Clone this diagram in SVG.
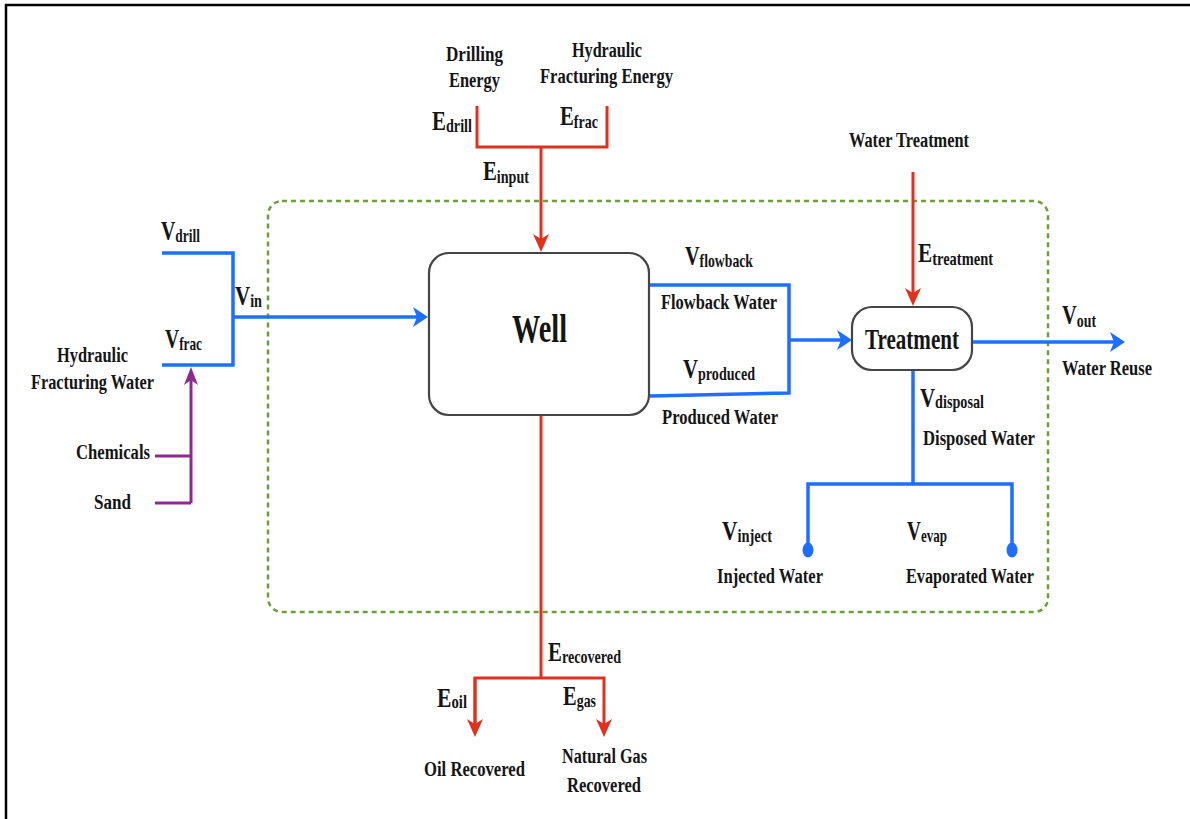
<svg xmlns="http://www.w3.org/2000/svg" width="1190" height="819" viewBox="0 0 1190 819">
<style>
text{font-family:"Liberation Serif","Times New Roman",serif;font-weight:bold;fill:#151515}
.l{font-size:20px}
.v{font-size:28px}
.s{font-size:19px}
.blue{fill:none;stroke:#1f6fff;stroke-width:3.5}
.red{fill:none;stroke:#e0311f;stroke-width:3}
.pur{fill:none;stroke:#8e2a8f;stroke-width:3}
.box{fill:#fff;stroke:#454545;stroke-width:2.2}
</style>
<defs>
<marker id="ab" markerUnits="userSpaceOnUse" viewBox="0 0 15 20" refX="10" refY="10" markerWidth="15" markerHeight="20" orient="auto"><path d="M0,0 L15,10 L0,20 L4,10 z" fill="#1f6fff"/></marker>
<marker id="ar" markerUnits="userSpaceOnUse" viewBox="0 0 18 16" refX="13" refY="8" markerWidth="18" markerHeight="16" orient="auto"><path d="M0,0 L18,8 L0,16 L5,8 z" fill="#e0311f"/></marker>
<marker id="ap" markerUnits="userSpaceOnUse" viewBox="0 0 18 14" refX="13" refY="7" markerWidth="18" markerHeight="14" orient="auto"><path d="M0,0 L18,7 L0,14 L5,7 z" fill="#8e2a8f"/></marker>
</defs>
<rect width="1190" height="819" fill="#fff"/>
<path d="M6,819 V5 H1190" fill="none" stroke="#000" stroke-width="2.5"/>
<rect id="boundary" x="268" y="201" width="780" height="411" rx="14" fill="none" stroke="#6a9f3a" stroke-width="2.5" stroke-dasharray="5 4"/>

<g id="connectors">
<path class="red" d="M477,106 V147 H607 V106"/>
<path class="red" d="M541,147 V247" marker-end="url(#ar)"/>
<path class="red" d="M913,172 V301" marker-end="url(#ar)"/>
<path class="red" d="M541,415 V678"/>
<path class="red" d="M475,732 V678 H604 V732" marker-end="url(#ar)"/>
<path class="red" d="M475,678 V732" marker-end="url(#ar)"/>
<path class="blue" d="M162,253 H233 V365 H162"/>
<path class="blue" d="M233,317 H423" marker-end="url(#ab)"/>
<path class="blue" d="M650,285 H789 V393 L650,396"/>
<path class="blue" d="M789,340 H847" marker-end="url(#ab)"/>
<path class="blue" d="M972,342 H1120" marker-end="url(#ab)"/>
<path class="blue" d="M913,370 V484"/>
<path class="blue" d="M808,550 V484 H1012 V550"/>
<ellipse cx="808" cy="550" rx="5.5" ry="7.5" fill="#1f6fff"/>
<ellipse cx="1012" cy="550" rx="5.5" ry="7.5" fill="#1f6fff"/>
<path class="pur" d="M191,503 V372" marker-end="url(#ap)"/>
<path class="pur" d="M155,456 H191 M155,503 H191"/>
</g>

<g id="well">
<rect class="box" x="429" y="253" width="220" height="162" rx="20"/>
<text x="512" y="342" style="font-size:40px" textLength="55" lengthAdjust="spacingAndGlyphs">Well</text>
</g>
<g id="treatment">
<rect class="box" x="852" y="307" width="120" height="63" rx="20"/>
<text x="865" y="349" style="font-size:30px" textLength="94" lengthAdjust="spacingAndGlyphs">Treatment</text>
</g>

<g id="drilling-energy">
<text class="l" x="446" y="61" textLength="57" lengthAdjust="spacingAndGlyphs">Drilling</text>
<text class="l" x="449" y="87" textLength="51" lengthAdjust="spacingAndGlyphs">Energy</text>
<text x="432" y="130" textLength="40" lengthAdjust="spacingAndGlyphs"><tspan class="v">E</tspan><tspan class="s" dy="2">drill</tspan></text>
</g>
<g id="frac-energy">
<text class="l" x="572" y="57" textLength="70" lengthAdjust="spacingAndGlyphs">Hydraulic</text>
<text class="l" x="540" y="83" textLength="133" lengthAdjust="spacingAndGlyphs">Fracturing Energy</text>
<text x="560" y="125" textLength="38" lengthAdjust="spacingAndGlyphs"><tspan class="v">E</tspan><tspan class="s" dy="3">frac</tspan></text>
</g>
<g id="e-input">
<text x="483" y="180" textLength="46" lengthAdjust="spacingAndGlyphs"><tspan class="v">E</tspan><tspan class="s" dy="3">input</tspan></text>
</g>
<g id="water-treatment">
<text class="l" x="849" y="147" textLength="120" lengthAdjust="spacingAndGlyphs">Water Treatment</text>
<text x="918" y="262" textLength="75" lengthAdjust="spacingAndGlyphs"><tspan class="v">E</tspan><tspan class="s" dy="3">treatment</tspan></text>
</g>
<g id="v-drill">
<text x="161" y="240" textLength="39" lengthAdjust="spacingAndGlyphs"><tspan class="v">V</tspan><tspan class="s" dy="2">drill</tspan></text>
</g>
<g id="v-in">
<text x="235" y="305" textLength="27" lengthAdjust="spacingAndGlyphs"><tspan class="v">V</tspan><tspan class="s" dy="2">in</tspan></text>
</g>
<g id="frac-water">
<text x="165" y="348" textLength="37" lengthAdjust="spacingAndGlyphs"><tspan class="v">V</tspan><tspan class="s" dy="2">frac</tspan></text>
<text class="l" x="57" y="362" textLength="71" lengthAdjust="spacingAndGlyphs">Hydraulic</text>
<text class="l" x="31" y="389" textLength="123" lengthAdjust="spacingAndGlyphs">Fracturing Water</text>
</g>
<g id="chemicals">
<text class="l" x="76" y="459" textLength="74" lengthAdjust="spacingAndGlyphs">Chemicals</text>
</g>
<g id="sand">
<text class="l" x="94" y="509" textLength="37" lengthAdjust="spacingAndGlyphs">Sand</text>
</g>
<g id="flowback">
<text x="685" y="265" textLength="68" lengthAdjust="spacingAndGlyphs"><tspan class="v">V</tspan><tspan class="s" dy="2">flowback</tspan></text>
<text class="l" x="661" y="309" textLength="116" lengthAdjust="spacingAndGlyphs">Flowback Water</text>
</g>
<g id="produced">
<text x="683" y="378" textLength="72" lengthAdjust="spacingAndGlyphs"><tspan class="v">V</tspan><tspan class="s" dy="2">produced</tspan></text>
<text class="l" x="662" y="424" textLength="116" lengthAdjust="spacingAndGlyphs">Produced Water</text>
</g>
<g id="reuse">
<text x="1062" y="324" textLength="34" lengthAdjust="spacingAndGlyphs"><tspan class="v">V</tspan><tspan class="s" dy="3">out</tspan></text>
<text class="l" x="1062" y="375" textLength="90" lengthAdjust="spacingAndGlyphs">Water Reuse</text>
</g>
<g id="disposal">
<text x="920" y="407" textLength="64" lengthAdjust="spacingAndGlyphs"><tspan class="v">V</tspan><tspan class="s" dy="1">disposal</tspan></text>
<text class="l" x="923" y="445" textLength="112" lengthAdjust="spacingAndGlyphs">Disposed Water</text>
</g>
<g id="injected">
<text x="722" y="540" textLength="50" lengthAdjust="spacingAndGlyphs"><tspan class="v">V</tspan><tspan class="s" dy="2">inject</tspan></text>
<text class="l" x="717" y="583" textLength="106" lengthAdjust="spacingAndGlyphs">Injected Water</text>
</g>
<g id="evaporated">
<text x="907" y="540" textLength="40" lengthAdjust="spacingAndGlyphs"><tspan class="v">V</tspan><tspan class="s" dy="2">evap</tspan></text>
<text class="l" x="906" y="583" textLength="128" lengthAdjust="spacingAndGlyphs">Evaporated Water</text>
</g>
<g id="recovered">
<text x="548" y="661" textLength="73" lengthAdjust="spacingAndGlyphs"><tspan class="v">E</tspan><tspan class="s" dy="2">recovered</tspan></text>
</g>
<g id="oil">
<text x="437" y="707" textLength="30" lengthAdjust="spacingAndGlyphs"><tspan class="v">E</tspan><tspan class="s" dy="1">oil</tspan></text>
<text class="l" x="424" y="776" textLength="101" lengthAdjust="spacingAndGlyphs">Oil Recovered</text>
</g>
<g id="gas">
<text x="563" y="705" textLength="33" lengthAdjust="spacingAndGlyphs"><tspan class="v">E</tspan><tspan class="s" dy="2">gas</tspan></text>
<text class="l" x="562" y="763" textLength="85" lengthAdjust="spacingAndGlyphs">Natural Gas</text>
<text class="l" x="567" y="792" textLength="74" lengthAdjust="spacingAndGlyphs">Recovered</text>
</g>
</svg>
